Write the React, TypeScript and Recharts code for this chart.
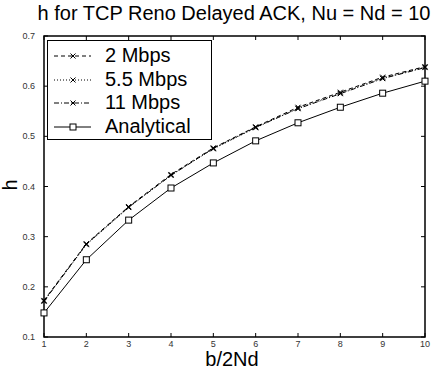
import { LineChart, Line, XAxis, YAxis, ReferenceArea } from "recharts";

const xValues = [1, 2, 3, 4, 5, 6, 7, 8, 9, 10];
const mbps2 = [0.173, 0.286, 0.36, 0.424, 0.477, 0.519, 0.558, 0.588, 0.618, 0.639];
const mbps55 = [0.172, 0.284, 0.358, 0.423, 0.475, 0.517, 0.556, 0.586, 0.616, 0.638];
const mbps11 = [0.171, 0.285, 0.359, 0.422, 0.476, 0.518, 0.555, 0.585, 0.615, 0.637];
const analytical = [0.148, 0.254, 0.333, 0.397, 0.447, 0.491, 0.527, 0.558, 0.586, 0.61];
const yTicks = [0.1, 0.2, 0.3, 0.4, 0.5, 0.6, 0.7];

const data = xValues.map((x, i) => ({
  x,
  m2: mbps2[i],
  m55: mbps55[i],
  m11: mbps11[i],
  an: analytical[i]
}));

const SERIES = [
  { key: "m2", name: "2 Mbps", dash: "4 3", marker: "x" },
  { key: "m55", name: "5.5 Mbps", dash: "1 2", marker: "x" },
  { key: "m11", name: "11 Mbps", dash: "5 2 1 2", marker: "x" },
  { key: "an", name: "Analytical", dash: undefined, marker: "sq" }
];

const W = 439;
const H = 369;
const PL = 44;
const PR = 425;
const PT = 36;
const PB = 337;
const FONT = '"Liberation Sans", Arial, Helvetica, sans-serif';

function XMark(props: any) {
  const { cx, cy } = props;
  if (cx == null || cy == null) return null;
  return (
    <g stroke="#000" strokeWidth={1}>
      <line x1={cx - 2.5} y1={cy - 2.5} x2={cx + 2.5} y2={cy + 2.5} />
      <line x1={cx - 2.5} y1={cy + 2.5} x2={cx + 2.5} y2={cy - 2.5} />
    </g>
  );
}

function SqMark(props: any) {
  const { cx, cy } = props;
  if (cx == null || cy == null) return null;
  return <rect x={cx - 3} y={cy - 3} width={6} height={6} fill="#fff" stroke="#000" strokeWidth={1} />;
}

function XTick(props: any) {
  const { x, payload } = props;
  return (
    <g>
      <line x1={x} x2={x} y1={PB} y2={PB - 4} stroke="#000" />
      <line x1={x} x2={x} y1={PT} y2={PT + 4} stroke="#000" />
      <text x={x} y={PB + 10} textAnchor="middle" fontSize={9} fill="#333" fontFamily={FONT}>
        {payload.value}
      </text>
    </g>
  );
}

function YTick(props: any) {
  const { x, y, payload } = props;
  return (
    <g>
      <line x1={PL} x2={PL + 4} y1={y} y2={y} stroke="#000" />
      <line x1={PR} x2={PR - 4} y1={y} y2={y} stroke="#000" />
      <text x={x - 1} y={y + 3} textAnchor="end" fontSize={9} fill="#333" fontFamily={FONT}>
        {payload.value}
      </text>
    </g>
  );
}

function LegendBox() {
  return (
    <div
      style={{
        position: "absolute",
        left: 47,
        top: 40,
        width: 163,
        height: 98,
        border: "1.5px solid #000",
        background: "#fff",
        fontFamily: FONT,
        fontSize: 20
      }}
    >
      {SERIES.map((s, i) => (
        <div
          key={s.key}
          style={{ position: "absolute", left: 0, top: 3 + i * 23.5, height: 23, display: "flex", alignItems: "center" }}
        >
          <svg width={52} height={23} style={{ marginLeft: 5, flexShrink: 0 }}>
            <line x1={1} x2={38} y1={12} y2={12} stroke="#000" strokeWidth={1} strokeDasharray={s.dash} />
            {s.marker === "x" ? <XMark cx={20} cy={12} /> : <SqMark cx={20} cy={12} />}
          </svg>
          <span style={{ lineHeight: "23px", whiteSpace: "nowrap" }}>{s.name}</span>
        </div>
      ))}
    </div>
  );
}

export default function App() {
  return (
    <div style={{ position: "absolute", left: 0, top: 0, width: W, height: H, background: "#fff", fontFamily: FONT }}>
      <LineChart width={W} height={H} data={data} margin={{ top: PT, right: W - PR, bottom: 0, left: 0 }}>
        <XAxis
          dataKey="x"
          type="number"
          domain={[1, 10]}
          ticks={xValues}
          height={H - PB}
          tickLine={false}
          axisLine={false}
          tick={<XTick />}
          interval={0}
        />
        <YAxis
          type="number"
          domain={[0.1, 0.7]}
          ticks={yTicks}
          width={PL}
          tickLine={false}
          axisLine={false}
          tick={<YTick />}
          interval={0}
          allowDataOverflow
        />
        <ReferenceArea x1={1} x2={10} y1={0.1} y2={0.7} fill="none" stroke="#000" strokeWidth={1.5} />
        {SERIES.map((s) => (
          <Line
            key={s.key}
            dataKey={s.key}
            name={s.name}
            type="linear"
            stroke="#000"
            strokeWidth={1}
            strokeDasharray={s.dash}
            dot={s.marker === "x" ? <XMark /> : <SqMark />}
            activeDot={false}
            isAnimationActive={false}
          />
        ))}
      </LineChart>
      <div
        style={{ position: "absolute", left: 0, width: 468, top: 2, textAlign: "center", fontSize: 20, color: "#000" }}
      >
        h for TCP Reno Delayed ACK, Nu = Nd = 10
      </div>
      <div
        style={{ position: "absolute", left: 0, width: 464, top: 351, textAlign: "center", fontSize: 20, lineHeight: "17px" }}
      >
        b/2Nd
      </div>
      <div
        style={{
          position: "absolute",
          left: 4,
          top: 175,
          fontSize: 20,
          transform: "rotate(-90deg)",
          transformOrigin: "center",
          lineHeight: "20px"
        }}
      >
        h
      </div>
      <LegendBox />
    </div>
  );
}
